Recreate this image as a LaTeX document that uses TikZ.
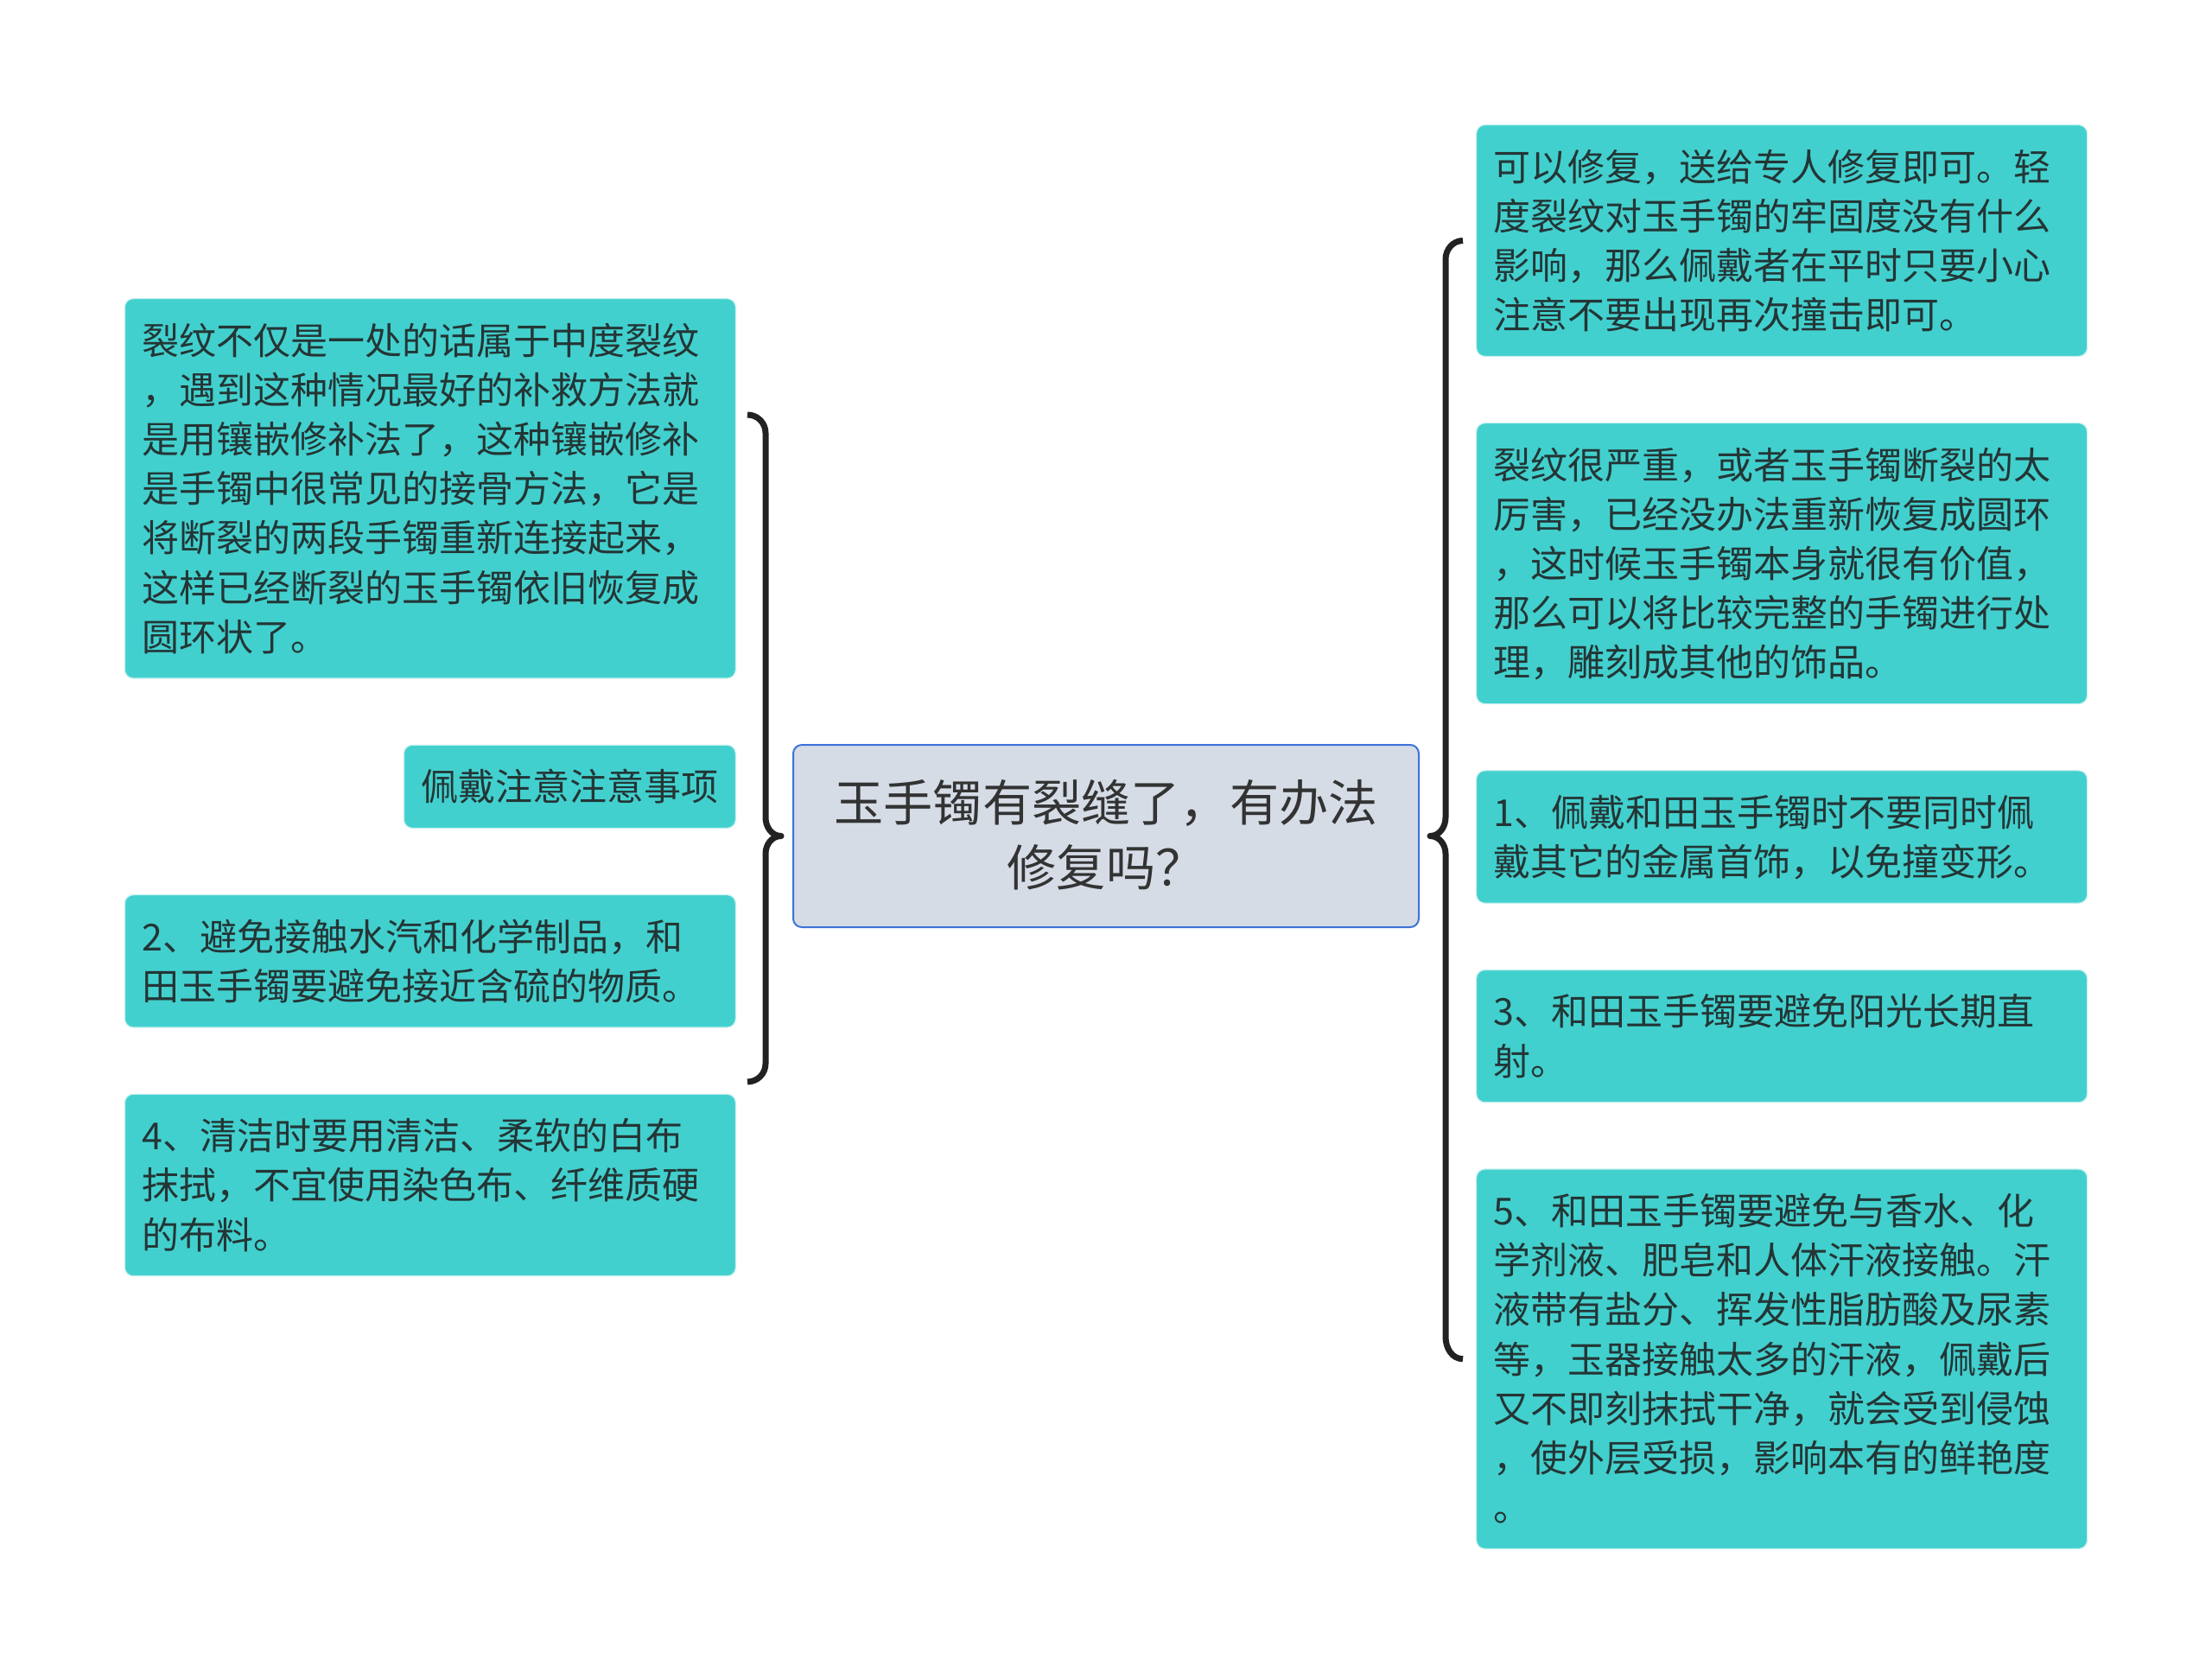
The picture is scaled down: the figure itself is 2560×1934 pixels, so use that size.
\documentclass[tikz,border=0pt]{standalone}
\usepackage{fontspec}
\usepackage{xcolor}
\usepackage{tikz}
\usetikzlibrary{positioning, calc}
\newfontfamily\cjk{Noto Sans CJK SC}
\definecolor{leafteal}{HTML}{42D0CE}
\definecolor{leafedge}{HTML}{C6F0EF}
\definecolor{rootfill}{HTML}{D5DCE6}
\definecolor{rootedge}{HTML}{3D73D8}
\definecolor{inkdark}{HTML}{243535}
\definecolor{bracegray}{HTML}{222222}
\newcommand{\sq}{\rule[-0.12em]{0pt}{1em}}

\begin{document}
\begin{tikzpicture}[
    x=0.5pt, y=-0.5pt,
    node distance=38pt,
    root/.style={rectangle, rounded corners=5pt, minimum width=362pt, minimum height=105.5pt, align=center, draw=rootedge, line width=1pt, fill=rootfill, text=black!80, font=\cjk\fontsize{28.6}{37.5}\selectfont, execute at begin node=\sq, execute at end node=\sq},
    leaf/.style={rectangle, rounded corners=5pt, text width=333.5pt, align=left, inner xsep=10pt, inner ysep=13.3pt, draw=leafedge, line width=0.6pt, fill=leafteal, text=inkdark, font=\cjk\fontsize{21.5}{28.6}\selectfont, execute at begin node=\sq, execute at end node=\sq},
    tag/.style={leaf, text width={}},
    brace/.style={line width=3.5pt, draw=bracegray, line join=round}
]
\fill [white] (0,0) rectangle (2560,1934);
\useasboundingbox (0,0) rectangle (2560,1934);

% Nodes
\node (root) [root] at (1280,967.5) {玉手镯有裂缝了，有办法\\修复吗？};

\node (R1) [leaf, anchor=north west] at (1708,144) {可以修复，送给专人修复即可。轻\\度裂纹对玉手镯的牢固度没有什么\\影响，那么佩戴者在平时只要小心\\注意不要出现再次撞击即可。};
\node (R2) [leaf, below=of R1] {裂纹很严重，或者玉手镯断裂的太\\厉害，已经没办法重新恢复成圆环\\，这时候玉手镯本身就很有价值，\\那么可以将比较完整的手镯进行处\\理，雕刻成其他的饰品。};
\node (R3) [leaf, below=of R2] {1、佩戴和田玉手镯时不要同时佩\\戴其它的金属首饰，以免撞变形。};
\node (R4) [leaf, below=of R3] {3、和田玉手镯要避免阳光长期直\\射。};
\node (R5) [leaf, below=of R4] {5、和田玉手镯要避免与香水、化\\学剂液、肥皂和人体汗液接触。汗\\液带有盐分、挥发性脂肪酸及尿素\\等，玉器接触太多的汗液，佩戴后\\又不即刻抹拭干净，就会受到侵蚀\\，使外层受损，影响本有的鲜艳度\\。};

\node (L1) [leaf, anchor=north east] at (852,345) {裂纹不仅是一处的话属于中度裂纹\\，遇到这种情况最好的补救方法就\\是用镶嵌修补法了，这种镶嵌修补\\是手镯中很常见的接骨方法，它是\\将断裂的两段手镯重新连接起来，\\这样已经断裂的玉手镯依旧恢复成\\圆环状了。};
\node (L2) [tag, below=of L1.south east, anchor=north east] {佩戴注意注意事项};
\node (L3) [leaf, below=of L2.south east, anchor=north east] {2、避免接触水汽和化学制品，和\\田玉手镯要避免接近含硫的物质。};
\node (L4) [leaf, below=of L3] {4、清洁时要用清洁、柔软的白布\\抹拭，不宜使用染色布、纤维质硬\\的布料。};

% Braces
\coordinate (ltop) at (865,480);
\coordinate (lbot) at (865,1252);
\draw [brace] (ltop) to[out=0, in=90] (886,501) -- (886,946) to[out=-90, in=180] ([xshift=-6.5pt]root.west) to[out=180, in=90] (886,988) -- (886,1231) to[out=-90, in=0] (lbot);
\draw [brace] ([xshift=-7.5pt]R1.west) to[out=180, in=90] (1673,300) -- (1673,946) to[out=-90, in=0] ([xshift=6pt]root.east) to[out=0, in=90] (1673,988) -- (1673,1547) to[out=-90, in=180] ([xshift=-7.5pt]R5.west);

\end{tikzpicture}
\end{document}
